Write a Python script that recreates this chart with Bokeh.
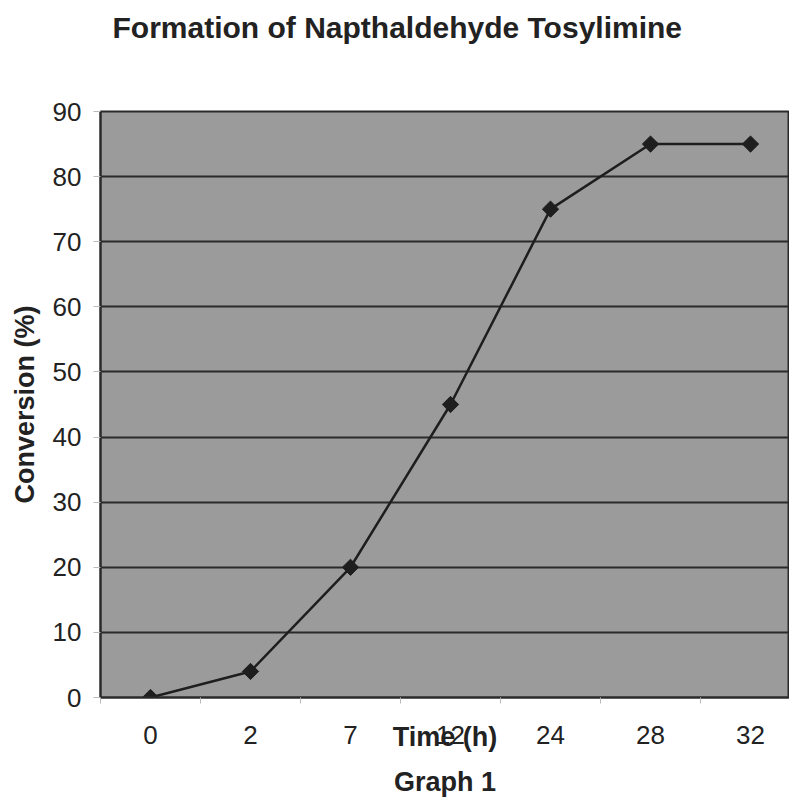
import math
from bokeh.plotting import figure
from bokeh.models import Range1d, FixedTicker, Title
from bokeh.embed import file_html
from bokeh.resources import INLINE

# Data
time_labels = ["0", "2", "7", "12", "24", "28", "32"]
conversion = [0, 4, 20, 45, 75, 85, 85]
y_ticks = [0, 10, 20, 30, 40, 50, 60, 70, 80, 90]

xs = list(range(len(time_labels)))

FONT = "Liberation Sans"
DARK = "#1e1e1e"
TXT = "#222222"

p = figure(width=789, height=798, output_backend="svg", toolbar_location=None,
           title=None,
           x_range=Range1d(-0.5, 6.39), y_range=Range1d(0, 90),
           min_border_left=100, min_border_right=0, min_border_top=111,
           min_border_bottom=101)

p.background_fill_color = "#9b9b9b"
p.border_fill_color = "white"
p.outline_line_color = "#2a2a2a"
p.outline_line_width = 2

# title (spacer panel next to the frame, then the title itself)
p.add_layout(Title(text=" ", text_font_size="1px", standoff=65), "above")
p.add_layout(Title(text="Formation of Napthaldehyde Tosylimine", align="left",
                   offset=12, standoff=0, text_font=FONT, text_font_size="30px",
                   text_font_style="bold", text_color=TXT), "above")

# grid
p.xgrid.visible = False
p.ygrid.ticker = FixedTicker(ticks=y_ticks)
p.ygrid.grid_line_color = "#2a2a2a"
p.ygrid.grid_line_width = 2

# y axis
ya = p.yaxis[0]
ya.ticker = FixedTicker(ticks=y_ticks)
ya.axis_line_color = "#2a2a2a"
ya.axis_line_width = 2
ya.major_tick_in = 0
ya.major_tick_out = 7
ya.major_tick_line_color = "#bbbbbb"
ya.minor_tick_line_color = None
ya.major_label_text_font = FONT
ya.major_label_text_font_size = "26px"
ya.major_label_text_color = TXT
ya.major_label_standoff = 12
ya.axis_label = "Conversion (%)"
ya.axis_label_text_font = FONT
ya.axis_label_text_font_size = "27px"
ya.axis_label_text_font_style = "bold"
ya.axis_label_text_color = TXT
ya.axis_label_standoff = 10

# x axis
xa = p.xaxis[0]
xa.ticker = FixedTicker(ticks=xs, minor_ticks=[i - 0.5 for i in range(len(time_labels) + 1)])
xa.major_label_overrides = {i: t for i, t in enumerate(time_labels)}
xa.axis_line_color = "#2a2a2a"
xa.axis_line_width = 2
xa.major_tick_in = 0
xa.major_tick_out = 0
xa.minor_tick_in = 0
xa.minor_tick_out = 6
xa.minor_tick_line_color = "#bbbbbb"
xa.major_label_text_font = FONT
xa.major_label_text_font_size = "26px"
xa.major_label_text_color = TXT
xa.major_label_standoff = 22
xa.axis_label = "Time (h)"
xa.axis_label_text_font = FONT
xa.axis_label_text_font_size = "27px"
xa.axis_label_text_font_style = "bold"
xa.axis_label_text_color = TXT
xa.axis_label_standoff = -25

# caption below (spacer, then caption)
p.add_layout(Title(text=" ", text_font_size="1px", standoff=9), "below")
p.add_layout(Title(text="Graph 1", align="center", vertical_align="top",
                   text_font=FONT, text_font_size="27px", text_font_style="bold",
                   text_color=TXT, standoff=0), "below")

p.line(xs, conversion, line_color=DARK, line_width=2.5)
p.scatter(xs, conversion, marker="square", angle=math.pi / 4, size=11.5,
          fill_color=DARK, line_color=DARK)

open("out.html", "w").write(file_html(p, INLINE))
